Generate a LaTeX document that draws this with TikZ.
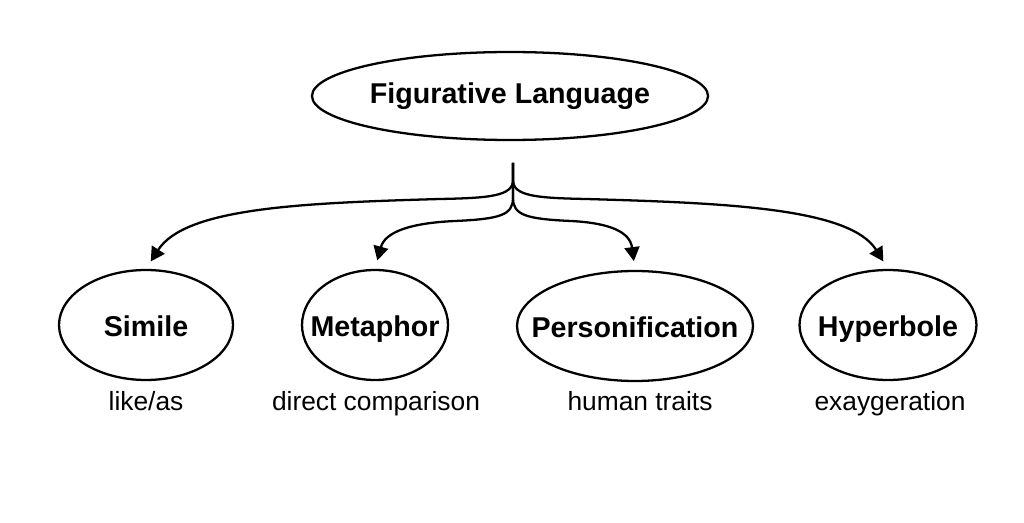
\documentclass[tikz,border=0pt]{standalone}
\usepackage{fontspec}
\setmainfont{Liberation Sans}
\usepackage{tikz}
\usetikzlibrary{shapes.geometric,arrows.meta,positioning}

% label that does not widen its ellipse
\newcommand{\zerowd}[1]{\makebox[0pt]{#1}}

\begin{document}
\begin{tikzpicture}[x=0.02cm, y=-0.02cm,
          root/.style={ellipse, draw, line width=1.3pt, inner sep=0pt,
            minimum width=6.08cm, minimum height=1.76cm, font=\fontsize{16.3}{19}\selectfont\bfseries},
          kind/.style={ellipse, draw, line width=1.3pt, inner sep=0pt,
            text height=16pt, text depth=3.4pt,
            minimum height=2.2cm, font=\fontsize{16.3}{19}\selectfont\bfseries},
          note/.style={anchor=base, font=\fontsize{15}{18}\selectfont},
          branch/.style={line width=1.3pt, shorten >=5pt},
          >={Triangle[length=8pt,width=8.5pt]}
        ]
          \fill[white] (0,0) rectangle (1024,523);
          \node[root] (fig) at (510,96) {Figurative Language};
          \node[kind, minimum width=3.48cm] (simile) at (146,325) {\zerowd{Simile}};
          \node[kind, minimum width=2.92cm] (metaphor) at (375,325) {\zerowd{Metaphor}};
          \node[kind, minimum width=4.72cm] (person) at (635,326) {\zerowd{Personification}};
          \node[kind, minimum width=3.54cm] (hyper) at (888,325) {\zerowd{Hyperbole}};
          \node[note] (like) at (146,410) {like/as};
          \node[note] (direct) at (376,410) {direct comparison};
          \node[note] (human) at (640,410) {human traits};
          \node[note] (exag) at (890,410) {exaygeration};
          \coordinate (stem) at (513,163);
          % outer branches
          \draw[->,branch] (stem) -- (513,180) .. controls (513,196) and (490,198) .. (440,199)
            .. controls (300,203) and (185,208) .. (simile.north);
          \draw[->,branch] (stem) -- (513,180) .. controls (513,196) and (536,198) .. (586,199)
            .. controls (726,203) and (850,208) .. (hyper.north);
          % inner branches
          \draw[->,branch] (stem) -- (513,198) .. controls (513,215) and (500,219) .. (455,221)
            .. controls (410,223) and (385,232) .. (metaphor.north);
          \draw[->,branch] (stem) -- (513,198) .. controls (513,215) and (526,219) .. (571,221)
            .. controls (610,223) and (630,232) .. (person.north);
        \end{tikzpicture}
\end{document}
